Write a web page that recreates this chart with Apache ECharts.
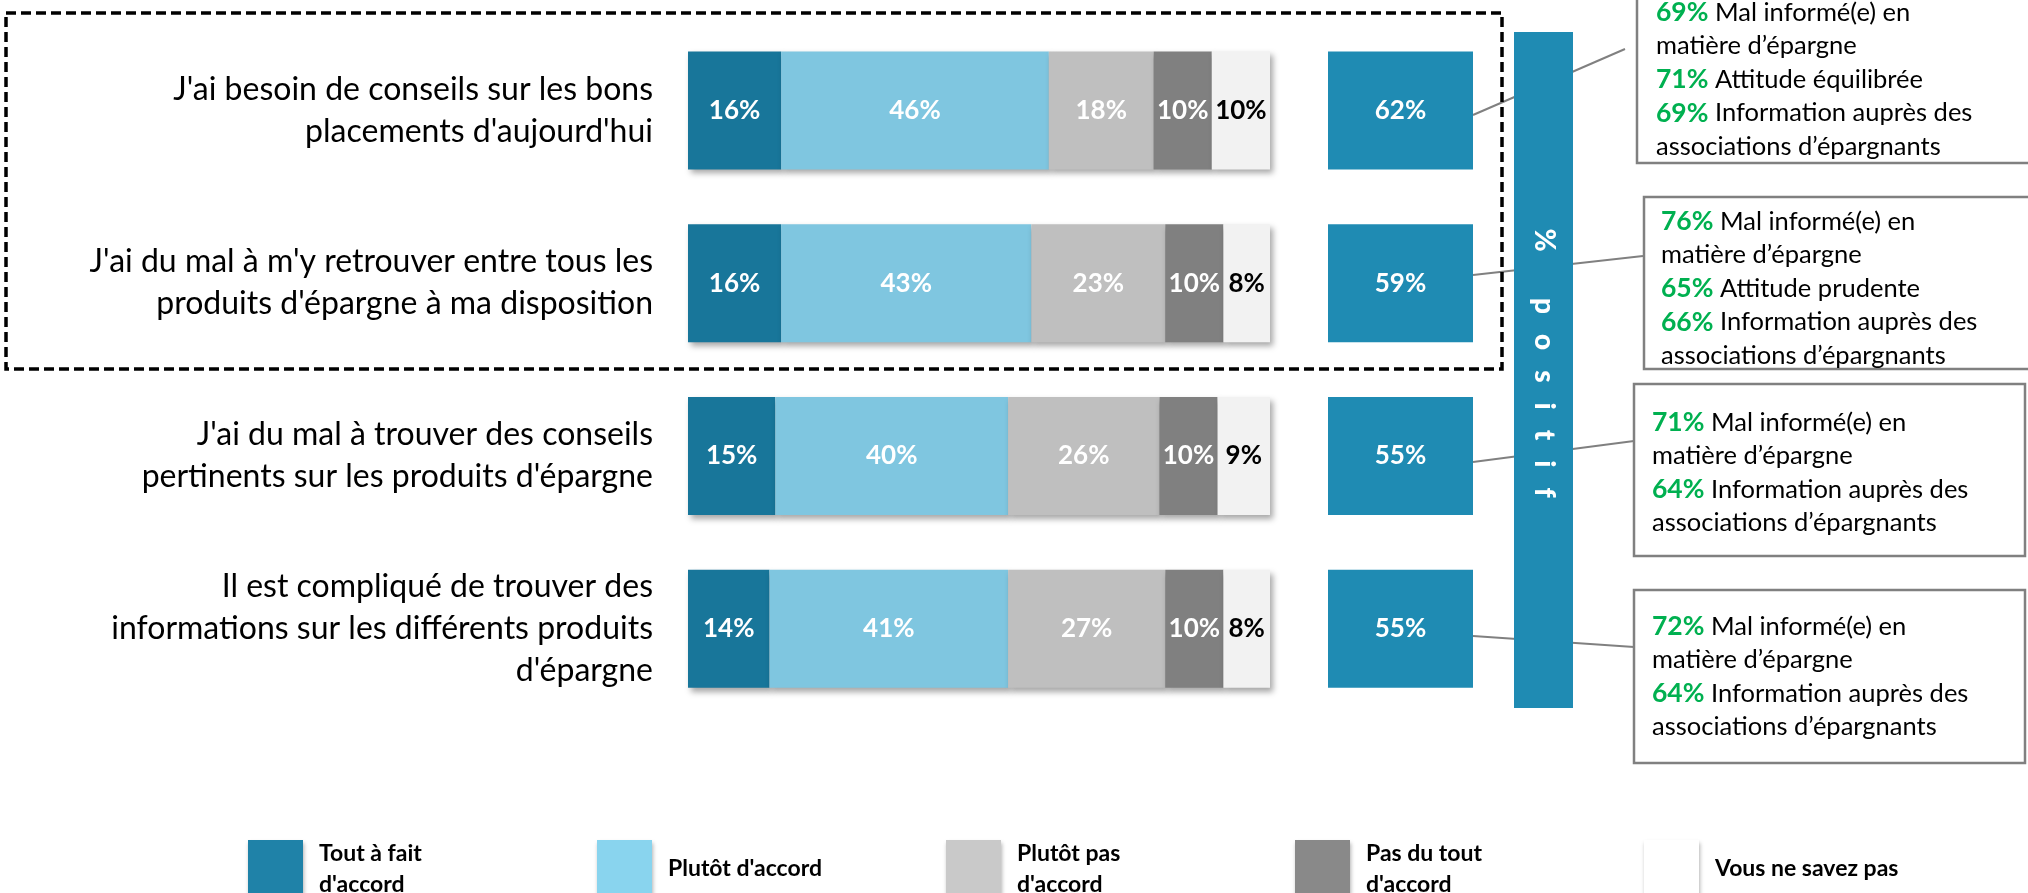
<!DOCTYPE html>
<html>
<head>
<meta charset="utf-8">
<script src="https://cdn.jsdelivr.net/npm/echarts@6/dist/echarts.min.js"></script>
<style>
html, body { margin: 0; padding: 0; background: #fff; }
#chart { width: 2028px; height: 893px; }
</style>
</head>
<body>
<div id="chart"></div>
<script>
// libellés des questions
var categories = [
	"J'ai besoin de conseils sur les bons\nplacements d'aujourd'hui",
	"J'ai du mal à m'y retrouver entre tous les\nproduits d'épargne à ma disposition",
	"J'ai du mal à trouver des conseils\npertinents sur les produits d'épargne",
	"Il est compliqué de trouver des\ninformations sur les différents produits\nd'épargne"
];

var seriesNames = ["Tout à fait\nd'accord", "Plutôt d'accord", "Plutôt pas\nd'accord", "Pas du tout\nd'accord", "Vous ne savez pas"];

// valeurs (%)
var toutAFait = [16, 16, 15, 14];
var plutot = [46, 43, 40, 41];
var plutotPas = [18, 23, 26, 27];
var pasDuTout = [10, 10, 10, 10];
var neSaitPas = [10, 8, 9, 8];

// % positif
var totals = [62, 59, 55, 55];

// encadrés de droite
var notePct = [[69, 71, 69], [76, 65, 66], [71, 64], [72, 64]];
var noteText = [
	["Mal informé(e) en\nmatière d’épargne", "Attitude équilibrée", "Information auprès des\nassociations d’épargnants"],
	["Mal informé(e) en\nmatière d’épargne", "Attitude prudente", "Information auprès des\nassociations d’épargnants"],
	["Mal informé(e) en\nmatière d’épargne", "Information auprès des\nassociations d’épargnants"],
	["Mal informé(e) en\nmatière d’épargne", "Information auprès des\nassociations d’épargnants"]
];

var FONT = 'Lato';
var barColors = ['#18769a', '#7fc6e0', '#bfbfbf', '#808080', '#f2f2f2'];
var legendColors = ['#1f82a8', '#89d4ee', '#c9c9c9', '#898989', '#ffffff'];
var labelColors = ['#fff', '#fff', '#fff', '#fff', '#000'];
var values = [toutAFait, plutot, plutotPas, pasDuTout, neSaitPas];

var chart = echarts.init(document.getElementById('chart'));

var series = values.map(function (data, i) {
	return {
		name: seriesNames[i],
		type: 'bar',
		stack: 'total',
		xAxisIndex: 0,
		yAxisIndex: 0,
		barWidth: 118,
		data: data,
		itemStyle: {
			color: barColors[i],
			shadowBlur: 6,
			shadowOffsetX: 3,
			shadowOffsetY: 4,
			shadowColor: 'rgba(0,0,0,0.35)'
		},
		label: {
			show: true,
			position: 'inside',
			formatter: '{c}%',
			fontFamily: FONT,
			fontWeight: 'bold',
			fontSize: 26,
			color: labelColors[i]
		},
		emphasis: { disabled: true }
	};
});

// boîtes % positif
series.push({
	name: 'positif',
	type: 'scatter',
	xAxisIndex: 1,
	yAxisIndex: 1,
	symbol: 'rect',
	symbolSize: [145, 118],
	data: totals.map(function (v, i) { return [0, i, v]; }),
	itemStyle: { color: '#1f8bb3', opacity: 1 },
	label: {
		show: true,
		position: 'inside',
		formatter: function (p) { return p.value[2] + '%'; },
		fontFamily: FONT,
		fontWeight: 'bold',
		fontSize: 26,
		color: '#fff'
	},
	emphasis: { disabled: true }
});

// encadrés
var boxes = [
	{ x: 1637, y: -10, w: 400, h: 173, tx: 1656, ty: -4 },
	{ x: 1644, y: 197, w: 400, h: 172, tx: 1661, ty: 205 },
	{ x: 1634, y: 384, w: 391, h: 172, tx: 1652, ty: 406 },
	{ x: 1634, y: 590, w: 391, h: 173, tx: 1652, ty: 610 }
];
var links = [
	[1473, 115, 1625, 49],
	[1473, 275, 1643, 256],
	[1473, 462, 1634, 441],
	[1473, 636, 1634, 647]
];

var graphics = [];
links.forEach(function (l) {
	graphics.push({
		type: 'line', z: 1,
		shape: { x1: l[0], y1: l[1], x2: l[2], y2: l[3] },
		style: { stroke: '#808080', lineWidth: 2 }
	});
});
boxes.forEach(function (b, i) {
	var txt = notePct[i].map(function (p, j) {
		return '{g|' + p + '%} ' + noteText[i][j];
	}).join('\n');
	graphics.push({
		type: 'rect', z: 2,
		shape: { x: b.x, y: b.y, width: b.w, height: b.h },
		style: { fill: '#fff', stroke: '#808080', lineWidth: 2.5 }
	});
	graphics.push({
		type: 'text', z: 3,
		x: b.tx, y: b.ty,
		style: {
			text: txt,
			fontFamily: FONT,
			fontSize: 25.5,
			lineHeight: 33.5,
			fill: '#000',
			rich: {
				g: { fontFamily: FONT, fontSize: 26.5, lineHeight: 33.5, fontWeight: 'bold', fill: '#00b050' }
			}
		}
	});
});
// barre verticale % positif
graphics.push({
	type: 'rect', z: 5,
	shape: { x: 1514, y: 32, width: 59, height: 676 },
	style: { fill: '#1f8bb3' }
});
graphics.push({
	type: 'text', z: 6,
	x: 1544, y: 363,
	rotation: -Math.PI / 2,
	style: {
		text: '%       p   o   s   i   t   i   f',
		fontFamily: FONT,
		fontWeight: 900,
		fontSize: 28,
		fill: '#fff',
		align: 'center',
		verticalAlign: 'middle'
	}
});
// cadre pointillé
graphics.push({
	type: 'rect', z: 7,
	shape: { x: 6, y: 13, width: 1496, height: 356 },
	style: { fill: null, stroke: '#000', lineWidth: 3.5, lineDash: [10, 5] }
});

var option = {
	backgroundColor: '#fff',
	animation: false,
	grid: [
		{ left: 688, width: 582, top: 24, height: 691 },
		{ left: 1328, width: 145, top: 24, height: 691 }
	],
	xAxis: [
		{ type: 'value', gridIndex: 0, min: 0, max: 100, show: false },
		{ type: 'category', gridIndex: 1, data: ['positif'], show: false }
	],
	yAxis: [
		{
			type: 'category', gridIndex: 0, inverse: true, data: categories,
			axisLine: { show: false }, axisTick: { show: false }, splitLine: { show: false },
			axisLabel: {
				margin: 35, fontFamily: FONT, fontSize: 32, lineHeight: 42,
				color: '#000', align: 'right'
			}
		},
		{ type: 'category', gridIndex: 1, inverse: true, data: categories, show: false }
	],
	legend: {
		top: 838,
		left: 248,
		padding: 0,
		icon: 'rect',
		itemWidth: 55,
		itemHeight: 58,
		itemGap: 10,
		selectedMode: false,
		textStyle: {
			fontFamily: FONT, fontWeight: 'bold', fontSize: 23, lineHeight: 31,
			color: '#000', width: 268, padding: [0, 0, 0, 11]
		},
		data: seriesNames.map(function (n, i) {
			return {
				name: n,
				itemStyle: {
					color: legendColors[i], borderWidth: 0,
					shadowBlur: 4, shadowOffsetX: 1, shadowOffsetY: 3, shadowColor: 'rgba(0,0,0,0.3)'
				}
			};
		})
	},
	graphic: graphics,
	series: series
};

chart.setOption(option);
</script>
</body>
</html>
